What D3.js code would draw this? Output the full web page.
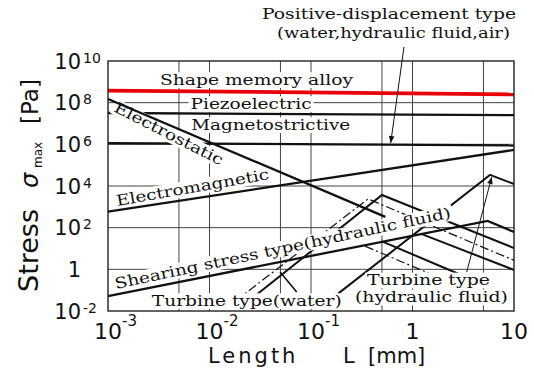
<!DOCTYPE html>
<html>
<head>
<meta charset="utf-8">
<script src="https://cdn.jsdelivr.net/npm/d3@7"></script>
<style>
  body { margin: 0; background: #ffffff; }
</style>
</head>
<body>
<div id="chart"></div>
<script>
// Actuator stress vs. length (log-log), redrawn with D3

// axis ranges and ticks
var xDomain = [1e-3, 10];
var yDomain = [1e-2, 1e10];
var xTicks = [1e-3, 1e-2, 1e-1, 1, 10];
var xTickBase = ["10", "10", "10", "1", "10"];
var xTickExp = ["-3", "-2", "-1", "", ""];
var yTicks = [1e-2, 1, 1e2, 1e4, 1e6, 1e8, 1e10];
var yTickBase = ["10", "1", "10", "10", "10", "10", "10"];
var yTickExp = ["-2", "", "2", "4", "6", "8", "10"];
var xGrid = [5e-3, 1e-2, 5e-2, 1e-1, 0.5, 1, 5];
var yGrid = [1, 1e2, 1e4, 1e6, 1e8];

// series: [length mm, stress Pa]
var shapeMemory = [[1e-3, 3.8e8], [10, 2.5e8]];
var piezoelectric = [[1e-3, 3.2e7], [10, 2.5e7]];
var positiveDisplacement = [[1e-3, 1.15e6], [10, 8.8e5]];
var electrostatic = [[1e-3, 1.5e8], [0.54, 330]];
var electromagnetic = [[1e-3, 590], [10, 5.4e5]];
var shearing = [[1e-3, 0.052], [5.5, 210], [10, 62]];
var shearingBranch1 = [[0.5, 22], [4, 0.3]];
var shearingBranch2 = [[1.2, 52], [10, 0.93]];
var turbineLarge = [[0.185, 0.068], [5.8, 3.4e4], [10, 1.25e4]];
var turbineMid = [[0.025, 0.034], [0.5, 3.7e3], [10, 10.5]];
var turbineDash1 = [[0.018, 0.030], [0.365, 2.4e3], [10, 2.7]];
var turbineDash2 = [[0.34, 13], [1.5, 0.6]];

// annotation arrows: [from, to]
var arrowPositive = [[0.824, 4.7e10], [0.61, 1.16e6]];
var arrowTurbine = [[3.42, 0.74], [6.03, 2.7e4]];
var arrowWater = [[0.0723, 0.082], [0.0496, 0.745]];

(function() {

    var width = 534;
    var height = 372;
    var plotLeft = 108, plotRight = 514, plotTop = 61, plotBottom = 311;

    var svg = d3.select("#chart")
        .append("svg")
        .attr("width", width)
        .attr("height", height);

    svg.append("rect")
        .attr("width", width)
        .attr("height", height)
        .attr("fill", "#ffffff");

    var x = d3.scaleLog().domain(xDomain).range([plotLeft, plotRight]);
    var y = d3.scaleLog().domain(yDomain).range([plotBottom, plotTop]);

    var line = d3.line()
        .x(function(d) { return x(d[0]); })
        .y(function(d) { return y(d[1]); });

    var defs = svg.append("defs");
    defs.append("marker")
        .attr("id", "head")
        .attr("viewBox", "0 -5 10 10")
        .attr("refX", 10)
        .attr("refY", 0)
        .attr("markerUnits", "userSpaceOnUse")
        .attr("markerWidth", 9)
        .attr("markerHeight", 7)
        .attr("orient", "auto")
        .append("path")
        .attr("d", "M0,-4L10,0L0,4Z")
        .attr("fill", "#111");

    // grid
    var grid = svg.append("g");
    grid.selectAll(".vg")
        .data(xGrid)
        .enter()
        .append("line")
        .attr("x1", function(d) { return x(d); })
        .attr("x2", function(d) { return x(d); })
        .attr("y1", plotTop)
        .attr("y2", plotBottom)
        .attr("stroke", "#444")
        .attr("stroke-width", 1);

    grid.selectAll(".hg")
        .data(yGrid)
        .enter()
        .append("line")
        .attr("x1", plotLeft)
        .attr("x2", plotRight)
        .attr("y1", function(d) { return y(d); })
        .attr("y2", function(d) { return y(d); })
        .attr("stroke", "#444")
        .attr("stroke-width", 1);

    // lines that sit behind the label boxes
    var back = [
        { data: positiveDisplacement, w: 2.3 },
        { data: piezoelectric, w: 2.3 },
        { data: shearingBranch1, w: 2 },
        { data: shearingBranch2, w: 2 },
        { data: turbineLarge, w: 2 },
        { data: turbineMid, w: 2 },
        { data: turbineDash1, w: 1.2, dash: "9,3,2,3" },
        { data: turbineDash2, w: 1.2, dash: "9,3,2,3" }
    ];

    svg.append("g").selectAll("path")
        .data(back)
        .enter()
        .append("path")
        .attr("d", function(d) { return line(d.data); })
        .attr("fill", "none")
        .attr("stroke", "#111")
        .attr("stroke-width", function(d) { return d.w; })
        .attr("stroke-dasharray", function(d) { return d.dash || null; });

    // labels with white boxes (they hide grid and curves beneath)
    var labels = [
        { text: "Shape memory alloy", at: [3.25e-3, 7.1e8], angle: 0, len: 193 },
        { text: "Piezoelectric", at: [6.5e-3, 5.0e7], angle: 0, len: 121 },
        { text: "Magnetostrictive", at: [6.6e-3, 4.9e6], angle: 0, len: 159 },
        { text: "Electrostatic", at: [1.12e-3, 4.0e7], angle: 27, len: 120 },
        { text: "Electromagnetic", at: [1.23e-3, 1.1e3], angle: -10, len: 155 },
        { text: "Shearing stress type(hydraulic fluid)", at: [1.2e-3, 0.114], angle: -12, len: 343 },
        { text: "Turbine type(water)", at: [2.7e-3, 0.0174], angle: 0, len: 190 },
        { text: "Turbine type", at: [0.356, 0.17], angle: 0, len: 123 },
        { text: "(hydraulic fluid)", at: [0.271, 0.026], angle: 0, len: 153 },
        { text: "Positive-displacement type", at: [0.0329, 1.05e12], angle: 0, len: 254 },
        { text: "(water,hydraulic fluid,air)", at: [0.0462, 1.28e11], angle: 0, len: 233 }
    ];

    var fs = 15;
    var lab = svg.append("g").selectAll("g")
        .data(labels)
        .enter()
        .append("g")
        .attr("transform", function(d) {
            return "translate(" + x(d.at[0]) + "," + y(d.at[1]) + ") rotate(" + d.angle + ")";
        });

    lab.append("rect")
        .attr("x", -2)
        .attr("y", -fs * 0.78 - 1)
        .attr("width", function(d) { return d.len + 4; })
        .attr("height", fs * 0.78 + 1 + fs * 0.2)
        .attr("fill", "#ffffff");

    lab.append("text")
        .attr("font-family", "DejaVu Serif, serif")
        .attr("font-size", fs + "px")
        .attr("fill", "#111")
        .attr("textLength", function(d) { return d.len; })
        .attr("lengthAdjust", "spacingAndGlyphs")
        .text(function(d) { return d.text; });

    // lines drawn on top
    var front = [
        { data: electrostatic, w: 2.3, c: "#111" },
        { data: electromagnetic, w: 2.3, c: "#111" },
        { data: shearing, w: 2.3, c: "#111" },
        { data: shapeMemory, w: 3.8, c: "#e8000b" }
    ];

    svg.append("g").selectAll("path")
        .data(front)
        .enter()
        .append("path")
        .attr("d", function(d) { return line(d.data); })
        .attr("fill", "none")
        .attr("stroke", function(d) { return d.c; })
        .attr("stroke-width", function(d) { return d.w; });

    // arrows
    svg.append("g").selectAll("path")
        .data([arrowPositive, arrowTurbine, arrowWater])
        .enter()
        .append("path")
        .attr("d", function(d) { return line(d); })
        .attr("fill", "none")
        .attr("stroke", "#111")
        .attr("stroke-width", function(d, i) { return i === 2 ? 1.6 : 1; })
        .attr("marker-end", function(d, i) { return i === 2 ? null : "url(#head)"; });

    // frame
    svg.append("rect")
        .attr("x", plotLeft)
        .attr("y", plotTop)
        .attr("width", plotRight - plotLeft)
        .attr("height", plotBottom - plotTop)
        .attr("fill", "none")
        .attr("stroke", "#222")
        .attr("stroke-width", 1.4);

    // x tick labels
    var xt = svg.append("g").selectAll("g")
        .data(xTicks)
        .enter()
        .append("g");

    xt.append("text")
        .attr("x", function(d) { return x(d); })
        .attr("y", 339)
        .attr("text-anchor", "middle")
        .attr("font-family", "DejaVu Sans, sans-serif")
        .attr("font-size", "22px")
        .attr("fill", "#111")
        .text(function(d, i) { return xTickBase[i]; });

    xt.append("text")
        .attr("x", function(d) { return x(d) + 14; })
        .attr("y", 326)
        .attr("font-family", "DejaVu Sans, sans-serif")
        .attr("font-size", "15px")
        .attr("fill", "#111")
        .text(function(d, i) { return xTickExp[i]; });

    // y tick labels
    var yt = svg.append("g").selectAll("g")
        .data(yTicks)
        .enter()
        .append("g");

    yt.append("text")
        .attr("x", 81)
        .attr("y", function(d) { return y(d) + 7.5; })
        .attr("text-anchor", "end")
        .attr("font-family", "DejaVu Sans, sans-serif")
        .attr("font-size", "21px")
        .attr("fill", "#111")
        .text(function(d, i) { return yTickBase[i]; });

    yt.append("text")
        .attr("x", 83)
        .attr("y", function(d) { return y(d) + 1.5; })
        .attr("font-family", "DejaVu Sans, sans-serif")
        .attr("font-size", "14px")
        .attr("fill", "#111")
        .text(function(d, i) { return yTickExp[i]; });

    // axis titles
    var xTitle = svg.append("text")
        .attr("y", 363)
        .attr("font-family", "DejaVu Sans, sans-serif")
        .attr("font-size", "21px")
        .attr("fill", "#111");
    xTitle.append("tspan").attr("x", 208).attr("letter-spacing", "3px").text("Length");
    xTitle.append("tspan").attr("x", 343).text("L");
    xTitle.append("tspan").attr("x", 368).text("[mm]");

    var yTitle = svg.append("g")
        .attr("transform", "translate(38,0) rotate(-90)")
        .append("text")
        .attr("font-family", "DejaVu Sans, sans-serif")
        .attr("fill", "#111");
    yTitle.append("tspan").attr("x", -292).attr("font-size", "27px").text("Stress");
    yTitle.append("tspan").attr("x", -188).attr("font-size", "24px").attr("font-style", "italic").text("σ");
    yTitle.append("tspan").attr("x", -168).attr("dy", 4).attr("font-size", "12px").text("max");
    yTitle.append("tspan").attr("x", -124).attr("dy", -4).attr("font-size", "23px").text("[Pa]");

})();
</script>
</body>
</html>
